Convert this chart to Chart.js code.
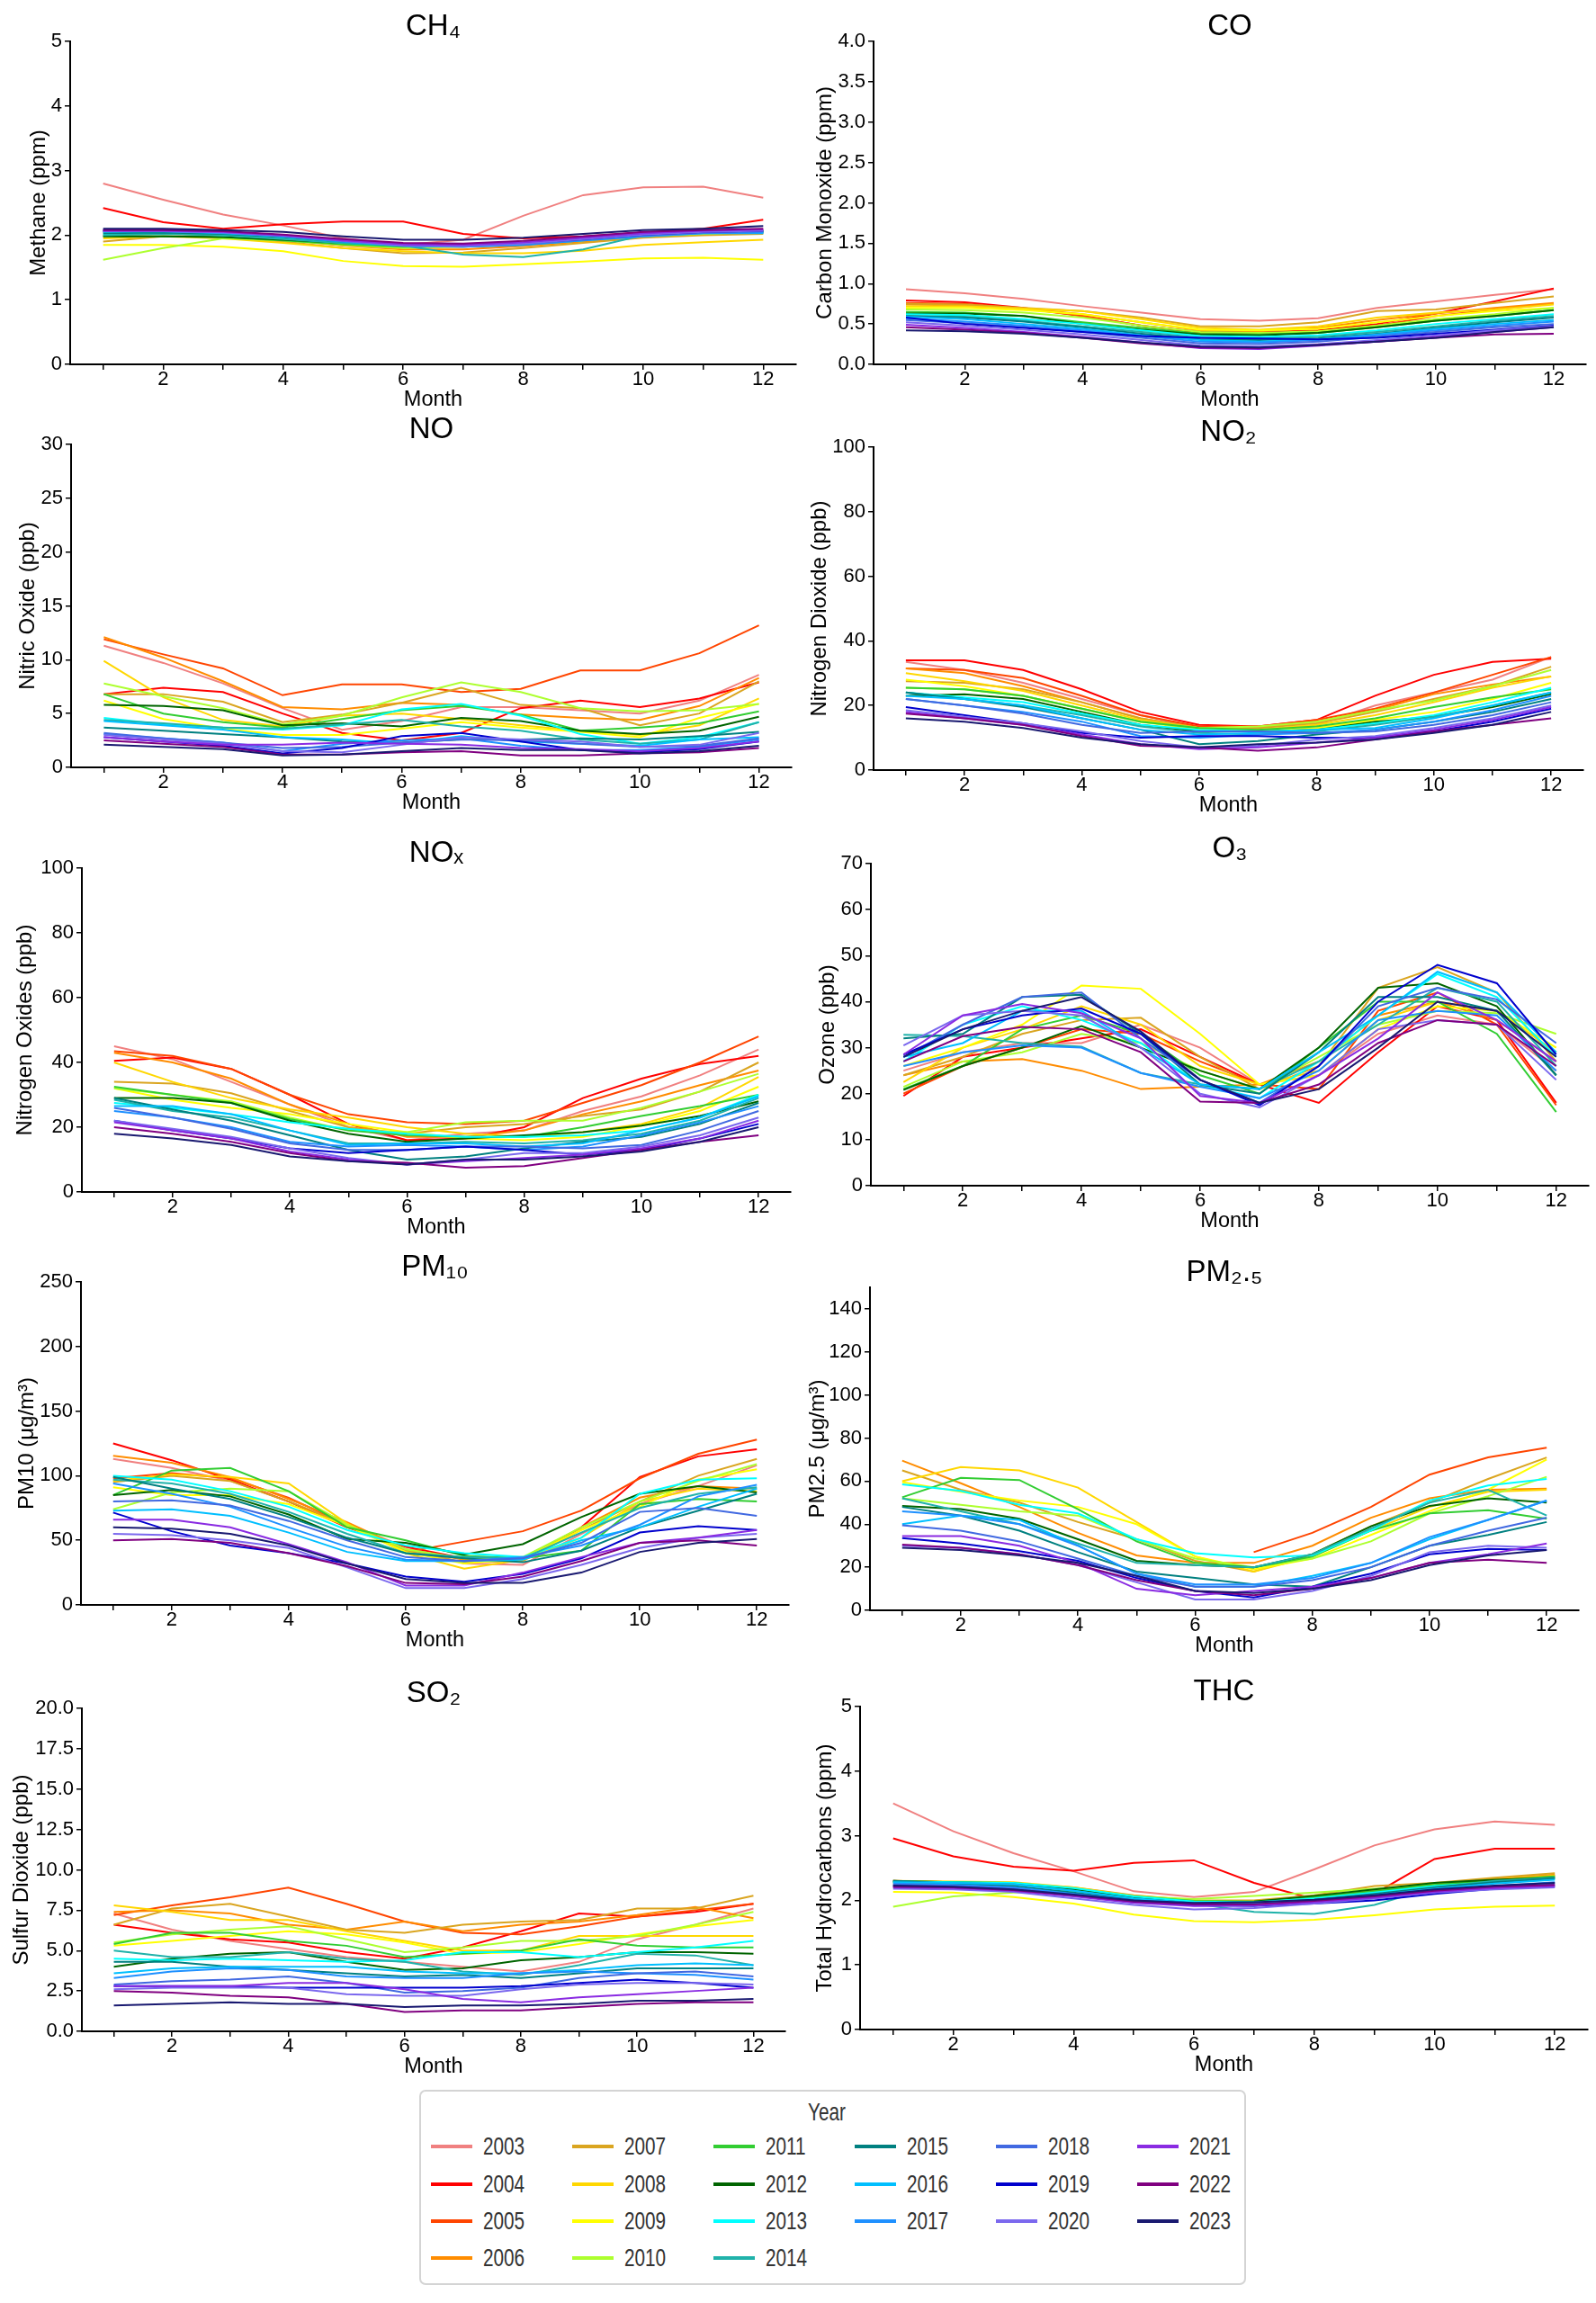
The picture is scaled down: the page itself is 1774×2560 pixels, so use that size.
<!DOCTYPE html>
<html>
<head>
<meta charset="utf-8">
<script src="https://cdn.jsdelivr.net/npm/chart.js@4.4.1/dist/chart.umd.min.js"></script>
<style>
  body { margin: 0; background: #fff; width: 1774px; height: 2560px; position: relative; overflow: hidden;
         font-family: "Liberation Sans", Arial, sans-serif; }
  canvas { position: absolute; }
  #legend { position: absolute; left: 466px; top: 2323px; width: 915px; height: 213px;
            border: 2px solid #d4d4d4; border-radius: 7px; }
  #legend .ttl, #legend .lbl { position: absolute; color: #333; font-size: 28px; line-height: 28px;
            transform-origin: left center; transform: scaleX(0.74); white-space: nowrap; }
  #legend .swatch { position: absolute; width: 46px; height: 4px; }
</style>
</head>
<body>
<div id="legend"></div>
<script>
const months = [1, 2, 3, 4, 5, 6, 7, 8, 9, 10, 11, 12];
const years = [2003, 2004, 2005, 2006, 2007, 2008, 2009, 2010, 2011, 2012, 2013,
               2014, 2015, 2016, 2017, 2018, 2019, 2020, 2021, 2022, 2023];
const yearColors = ['#f08080', '#ff0000', '#ff4500', '#ff8c00', '#daa520', '#ffd700', '#ffff00',
                    '#adff2f', '#32cd32', '#006400', '#00ffff', '#20b2aa', '#008080', '#00bfff',
                    '#1e90ff', '#4169e1', '#0000cd', '#7b68ee', '#8a2be2', '#800080', '#191970'];

// one row per year (2003..2023), one value per month
const ch4 = [
  [2.80,2.55,2.32,2.15,1.95,1.85,1.93,2.30,2.62,2.74,2.75,2.58],
  [2.42,2.20,2.10,2.17,2.21,2.21,2.02,1.95,1.98,2.04,2.10,2.24],
  [2.05,2.05,2.02,1.97,1.88,1.82,1.82,1.86,1.93,2.00,2.05,2.08],
  [2.00,2.02,2.00,1.93,1.84,1.78,1.78,1.83,1.90,1.97,2.02,2.05],
  [1.90,1.98,1.97,1.90,1.80,1.72,1.73,1.80,1.88,1.96,2.00,2.02],
  [1.95,1.98,1.95,1.88,1.80,1.75,1.72,1.72,1.76,1.85,1.89,1.93],
  [1.85,1.85,1.82,1.75,1.60,1.52,1.51,1.55,1.59,1.64,1.65,1.62],
  [1.62,1.80,1.95,1.92,1.85,1.80,1.82,1.86,1.92,1.98,2.02,2.05],
  [1.98,1.98,1.97,1.92,1.86,1.82,1.83,1.87,1.93,2.00,2.04,2.06],
  [1.98,1.98,1.97,1.93,1.88,1.85,1.85,1.88,1.94,2.00,2.04,2.06],
  [2.02,2.03,2.00,1.95,1.88,1.84,1.84,1.87,1.93,2.00,2.04,2.05],
  [2.00,2.02,2.00,1.94,1.88,1.84,1.70,1.66,1.78,2.00,2.04,2.04],
  [2.03,2.04,2.02,1.97,1.90,1.85,1.84,1.87,1.93,2.00,2.04,2.04],
  [2.05,2.06,2.03,1.98,1.90,1.84,1.82,1.85,1.92,1.98,2.03,2.03],
  [2.06,2.06,2.04,1.98,1.90,1.83,1.82,1.85,1.92,1.98,2.03,2.04],
  [2.07,2.07,2.05,1.99,1.91,1.85,1.84,1.87,1.93,2.00,2.04,2.06],
  [2.08,2.08,2.05,2.00,1.92,1.86,1.85,1.88,1.94,2.01,2.05,2.07],
  [2.06,2.06,2.04,1.99,1.91,1.84,1.83,1.87,1.94,2.01,2.05,2.07],
  [2.07,2.07,2.05,2.00,1.92,1.86,1.85,1.89,1.96,2.03,2.07,2.09],
  [2.08,2.08,2.06,2.01,1.94,1.88,1.87,1.91,1.98,2.05,2.08,2.10],
  [2.10,2.10,2.08,2.05,1.98,1.93,1.93,1.96,2.02,2.08,2.10,2.14]
];
const co = [
  [0.93,0.88,0.81,0.72,0.64,0.56,0.54,0.57,0.70,0.78,0.86,0.93],
  [0.79,0.77,0.70,0.60,0.48,0.40,0.40,0.42,0.50,0.63,0.78,0.94],
  [0.76,0.75,0.69,0.60,0.48,0.39,0.38,0.40,0.48,0.60,0.68,0.75],
  [0.74,0.73,0.69,0.62,0.52,0.42,0.41,0.45,0.55,0.63,0.70,0.76],
  [0.75,0.74,0.70,0.66,0.58,0.47,0.47,0.52,0.66,0.68,0.76,0.84],
  [0.72,0.72,0.69,0.66,0.56,0.45,0.43,0.47,0.58,0.64,0.68,0.74],
  [0.70,0.70,0.67,0.62,0.52,0.43,0.42,0.44,0.52,0.60,0.66,0.70],
  [0.68,0.67,0.64,0.58,0.48,0.40,0.39,0.41,0.48,0.56,0.62,0.70],
  [0.65,0.64,0.60,0.52,0.45,0.38,0.37,0.39,0.46,0.54,0.60,0.67],
  [0.63,0.63,0.60,0.50,0.43,0.37,0.36,0.39,0.46,0.54,0.60,0.67],
  [0.62,0.61,0.56,0.50,0.42,0.35,0.34,0.36,0.42,0.50,0.56,0.62],
  [0.60,0.59,0.54,0.47,0.40,0.33,0.32,0.34,0.40,0.47,0.54,0.60],
  [0.60,0.58,0.53,0.46,0.38,0.31,0.30,0.32,0.38,0.45,0.52,0.58],
  [0.59,0.56,0.50,0.44,0.36,0.30,0.28,0.31,0.37,0.44,0.50,0.55],
  [0.57,0.53,0.48,0.42,0.35,0.28,0.27,0.30,0.36,0.42,0.48,0.53],
  [0.55,0.51,0.46,0.40,0.33,0.26,0.25,0.28,0.34,0.40,0.46,0.50],
  [0.58,0.50,0.45,0.40,0.35,0.33,0.32,0.31,0.33,0.38,0.43,0.48],
  [0.52,0.48,0.43,0.37,0.30,0.23,0.22,0.25,0.30,0.36,0.42,0.47],
  [0.49,0.45,0.40,0.34,0.27,0.20,0.19,0.23,0.28,0.34,0.40,0.46],
  [0.46,0.43,0.39,0.33,0.26,0.21,0.20,0.24,0.28,0.33,0.37,0.38],
  [0.42,0.41,0.38,0.33,0.27,0.22,0.21,0.24,0.28,0.33,0.40,0.46]
];
const no = [
  [11.3,9.7,7.8,5.5,3.5,4.3,5.6,5.6,5.3,5.0,6.2,8.6],
  [6.8,7.4,7.0,5.0,3.2,2.5,3.2,5.5,6.2,5.6,6.4,7.9],
  [11.9,10.5,9.2,6.7,7.7,7.7,7.0,7.3,9.0,9.0,10.6,13.2],
  [12.1,10.2,8.0,5.6,5.4,6.0,5.8,4.9,4.6,4.4,5.7,8.3],
  [6.8,6.8,6.1,4.2,4.9,6.0,7.4,5.8,5.5,3.9,5.0,8.0],
  [9.9,6.5,4.4,3.8,4.8,5.0,4.5,3.9,3.4,3.0,3.9,6.4],
  [6.2,4.5,3.6,3.0,3.0,3.6,4.2,3.7,3.3,2.8,4.6,5.9],
  [7.8,6.6,5.5,4.0,4.8,6.5,7.9,7.0,5.5,5.2,5.3,5.9],
  [6.8,5.0,4.2,3.7,4.5,5.3,5.7,4.9,3.4,3.7,4.1,5.2],
  [5.8,5.7,5.3,3.9,4.1,3.8,4.6,4.3,3.4,3.1,3.4,4.7],
  [4.6,4.0,3.7,3.5,3.9,5.4,5.9,4.8,3.1,2.2,2.8,4.2],
  [4.4,4.1,3.7,3.6,4.0,4.4,3.8,3.4,2.6,2.2,2.6,4.2],
  [3.7,3.4,3.1,2.8,2.4,2.3,2.6,2.6,2.7,2.6,2.9,3.3],
  [4.3,3.9,3.5,2.8,2.6,2.2,2.9,2.4,2.2,2.0,2.6,2.8],
  [3.1,2.7,2.3,1.5,2.2,2.5,2.7,2.0,1.6,1.6,1.9,2.6],
  [3.2,2.7,2.3,1.8,1.9,2.3,2.6,2.5,2.2,1.9,2.0,2.7],
  [2.8,2.4,2.0,1.3,1.8,2.9,3.2,2.4,1.6,1.4,1.7,2.4],
  [3.0,2.6,2.2,1.5,1.4,2.1,2.8,2.6,2.4,1.9,2.1,3.2],
  [2.8,2.4,2.1,2.1,2.3,2.2,2.1,1.8,1.7,1.5,1.8,2.4],
  [2.5,2.2,1.9,1.2,1.2,1.4,1.5,1.1,1.1,1.3,1.4,1.8],
  [2.1,1.9,1.7,1.1,1.2,1.5,1.8,1.6,1.6,1.3,1.5,2.0]
];
const no2 = [
  [33.5,31,27,22,17,13,12.5,14,20,24,28,35],
  [34,34,31,25,18,14,13.5,15.5,23,29.5,33.5,34.5],
  [31.5,31,28.5,23,17,13.5,13.5,15.5,19,24,29.5,35],
  [31.5,30,26,21,16,13,13,15,18.5,23.5,26.5,29],
  [27.5,27,25,21,16,13,13,14.5,18,22,26,32],
  [30,27.5,24.5,20,15.5,13,12.5,14,17,21,25.5,29],
  [28,26,23,19,15,12.5,12,13,15.5,18,22,27],
  [25.5,25,23,19,15,13,13.5,15,18.5,21.5,26,31],
  [25.5,25,23,19,15,13,12.5,13.5,16,19.5,22.5,25],
  [23,23.5,22,18,14,12,12,12.5,15,16.5,19.5,23.5],
  [24,22.5,21,17.5,14,12.5,12,12.5,14.5,17,21,25.5],
  [24,22,20,17,13.5,11.5,11,12,14,16.5,20,24],
  [24,22,19.5,16,12.5,8,9,11,12.5,15,18,22],
  [23,22,20,16,12.5,11,11.5,12.5,13,16,20,24],
  [22,20,18,15,10.5,10,11,11.5,12.5,15,18.5,23],
  [22,20,17.5,14,11.5,12,12,11.5,12,14,17,21],
  [19.5,17,14.5,11.5,10,10.5,10.5,10,10,12,15,19],
  [18.5,16.5,14.5,12,9,7,7.5,9.5,10.5,13,16,20],
  [18,16,14,11,8,6.5,7,8.5,10,12.5,15.5,19.5],
  [17.5,16,14,10.5,7.5,7,6,7,9.5,12,14,16],
  [16,15,13,10,8,7,8,8.5,9.5,11.5,14,18]
];
const nox = [
  [45,41,34,27,20,16,18,19,25,29.5,36,44],
  [40.5,41.5,38,30,21,16,16.5,20,29,35,39.5,42],
  [43.5,42,38,30,24,21.5,21,22,27.5,33,40,48],
  [43,40,35,27,21,17,17,19,24,28,33,37.5],
  [34,33.5,30.5,25,20,18,20,21,23.5,25.5,31,40],
  [40,34,29,25.5,23,20,18,17,18.5,21,26,35.5],
  [32,28.5,26,24,21,18.5,16.5,16,17,20.5,25,32.5],
  [32,30,28,23,19,18.5,21.5,22,22,26,31,36.5],
  [32.5,30,27.5,22.5,19,17.5,17,17,20,23.5,26.5,30],
  [29,29,27.5,22,18,15.5,16.5,17.5,18.5,20.5,23.5,28],
  [27.5,26,24,21.5,19.5,18,17,17,17.5,19,23,30],
  [28.5,25,23,19,15,15,15.5,15,16,18,22,29],
  [29,25.5,22,17.5,13,10,11,13.5,15.5,17,21,27.5],
  [26.5,26.5,24,19,14.5,15,15,14,15,19,23,29.5],
  [25,23,20,15.5,14,14.5,14,13,14,17.5,21.5,26.5],
  [26,23,19.5,15,13,13,14,14,13.5,14.5,19,25],
  [22,19,16.5,13.5,12,13,14,13,11.5,13,16.5,21],
  [22,19.5,17,13.5,10.5,8.5,10,12,12,14,17.5,23],
  [21.5,19,16.5,12.5,10,8.5,9.5,10.5,11.5,13.5,16.5,22],
  [20,18,15.5,12,9.5,9,7.5,8,10.5,13,15.5,17.5],
  [18,16.5,14.5,11,9.5,8.5,10,10,11,12.5,15.5,20]
];
const o3 = [
  [25,29,31,31,35,30,22,24,33,37,35,25],
  [19.5,28,30,32,34,28,22,18,29,39,36,18],
  [20,26,30,34,33,27,22,21,38,42,35,17.5],
  [24,27,27.5,25,21,21.5,22,27,37,40,36,27],
  [24,28,33,36,36.5,28,21,26,43,47.5,42,27],
  [22.5,30,34,39,35,26,22,25,36,40,38,29],
  [26,30,35,43.5,42.8,33,22,24,34,39,38,30],
  [21.5,27,29,33,31,25,21,28,35,38,37.5,33],
  [21,26,34,37,33,24,20,30,40,40,33,16],
  [20.8,26,30,34.7,30,25,21,30,43,44,39,24],
  [27,35,39,36,31,22,19,27,37,46,41,28],
  [32.8,32.5,31,30.2,24.5,22,21,27,35,43,40,26],
  [32,33,41,41.5,33,22,20,29,41,41,38,24],
  [28,31,38,38,30,22,21,29,37,46.5,42,29],
  [26,29,30.5,30,24.5,21.5,19,25,36,38,37,25],
  [28,35,41,42,32,23,18,26,39,43,40.5,31],
  [28.5,34,37,38.5,33,23,17.5,26,40,48,44,28.5],
  [30.5,37,38,37,30,20,17,24,34,36,35,23],
  [28.5,37,39.5,37.5,32,19.5,18,24,32,42,36,27],
  [27,32.5,34.5,34,29,18.3,18,22,31,36,35,26],
  [28,34,38,41,33.5,23,18,21,30,40,38,28]
];
const pm10 = [
  [113,106,96,80,62,45,32,31,55,78,92,108],
  [125,112,97,80,60,45,36,35,60,99,115,120.5],
  [98,102,98,83,62,41,49,57,73,98,117,128],
  [115.5,110,99,82,64,43,35,36,60,83,92,90],
  [95,100,96,80,62,42,33,34,58,80,100,113],
  [96,101,99,94,63,40,28,35,52,80,90,88],
  [91,85,85,78,61,41,32,36,58,76,97,105],
  [74,87,90,88,62,43,36,37,60,80,96,109],
  [85,104,106,88,60,50,38,36,42,78,82,80],
  [85,89,84,70,51,48,39,47,68,86,92,87],
  [100,97,88,76,58,46,40,37,52,86,97,98],
  [97,94,86,72,55,40,37,36,56,75,86,91],
  [99,90,82,68,52,40,36,33,42,60,73,86],
  [73,74,69,56,41,34,34,35,50,60,76,90],
  [94,86,76,60,45,35,34,37,46,62,84,93],
  [80,81,77,65,50,37,34,36,48,72,75,69],
  [71.5,57,46,40,32,22,18,24,36,56,61,58],
  [55,54,50,44,29,13,13,20,31,44,52,55],
  [66,66,60,47,33,15,15,25,37,48,52,58],
  [50,51,48,40,30,17,16,22,34,48,50,46],
  [60,59,55,46,32,20,17,17,25,41,48,51]
];
const pm25 = [
  [null,null,null,null,null,null,null,null,null,null,null,null],
  [null,null,null,null,null,null,null,null,null,null,null,null],
  [null,null,null,null,null,null,27,36,48,63,71,75.5],
  [69.5,59,48,36,25.5,22,22,30,43,52,56,56.5],
  [65,56,50,41,33,23,18,26,39,50,61,71],
  [60,66.5,65,57,41,25,18,25,37,48,55,56],
  [59.5,55,51,48,40,25,19,24,35,46,56,70],
  [52,49,46,44,33,24,20,24,32,45,53,62],
  [52.5,61.5,60.5,47,32,22,20,25,37,45,46.5,42.5],
  [48.5,47,42.5,33,23,21,20,26,39,48.5,52,50],
  [58.5,55.5,49,45,33,26.5,24.5,25.5,37,51,58,61],
  [52,46,40,31,22,21,20,26,38,50,56,44],
  [48,44,37,27,18,15,12,11,20,30,35,41],
  [40,44,42,30,17,11,11,16,22,33,42,51],
  [46,44,40,30,17,12,12,15,22,34,42,51],
  [39.5,37,32,24,16,11,11,14,20,30,37,43],
  [33.5,31,27.5,23,15,9,6,11,17,26,28.5,28],
  [30,29,26,21,13,5,5,9,16,27,30,29],
  [34.5,34.5,30,22,10,7,9,11,15,22,26,31],
  [30.5,29,26,21,14,9,7,10,15,22,23.5,22],
  [29,28,25.5,22,16,9,8,10,14,21,25.5,28]
];
const so2 = [
  [7.3,6.3,5.6,5.1,4.6,4.3,4.0,3.7,4.3,5.7,6.6,7.6],
  [6.6,6.1,5.7,5.5,4.9,4.5,5.2,6.2,7.3,7.1,7.4,7.9],
  [7.2,7.8,8.3,8.9,7.9,6.8,6.1,6.0,6.5,7.1,7.5,7.9],
  [7.4,7.5,7.3,6.6,6.3,6.8,6.2,6.6,6.8,7.2,7.7,7.0],
  [6.6,7.6,7.9,7.1,6.3,6.1,6.6,6.8,6.9,7.6,7.6,8.4],
  [7.8,7.4,6.9,6.9,6.2,5.6,5.0,5.0,5.9,5.9,5.9,5.9],
  [5.3,5.6,5.9,6.2,6.0,5.5,4.8,4.9,5.4,6.0,6.5,6.9],
  [5.5,6.0,6.3,6.5,5.7,4.9,5.2,5.6,5.6,5.9,6.6,7.4],
  [5.4,6.1,6.1,5.6,5.3,4.6,4.8,5.0,5.7,5.3,5.2,5.2],
  [4.0,4.5,4.8,4.9,4.3,3.8,3.9,4.4,4.6,4.9,4.9,4.8],
  [4.5,4.4,4.5,4.4,4.3,4.4,4.9,4.9,4.6,4.9,5.2,5.6],
  [5.0,4.6,4.6,4.9,4.5,4.3,3.7,3.5,4.1,4.8,4.7,4.1],
  [4.3,4.3,4.0,3.8,3.6,3.4,3.5,3.3,3.6,3.9,3.9,3.9],
  [3.6,3.9,4.0,4.0,4.0,3.7,3.6,3.6,3.8,4.1,4.2,4.1],
  [3.3,3.7,3.9,3.8,3.4,3.3,3.3,3.6,3.7,3.6,3.5,3.2],
  [2.9,3.1,3.2,3.4,3.0,2.4,2.5,2.7,3.3,3.6,3.7,3.4],
  [2.8,2.8,2.8,2.7,2.7,2.7,2.7,2.8,3.0,3.2,3.0,2.7],
  [2.6,2.7,2.7,2.7,2.3,2.2,2.2,2.6,2.9,3.0,3.0,2.9],
  [2.8,2.8,2.8,3.0,3.0,2.6,2.0,1.8,2.1,2.3,2.5,2.7],
  [2.5,2.4,2.2,2.1,1.7,1.2,1.3,1.3,1.5,1.7,1.8,1.8],
  [1.6,1.7,1.8,1.7,1.7,1.5,1.6,1.6,1.7,1.9,1.9,2.0]
];
const thc = [
  [3.50,3.07,2.73,2.45,2.14,2.05,2.13,2.48,2.85,3.10,3.22,3.17],
  [2.96,2.68,2.52,2.46,2.58,2.62,2.27,2.02,2.10,2.64,2.80,2.80],
  [2.30,2.28,2.25,2.18,2.06,1.98,1.98,2.04,2.14,2.25,2.32,2.38],
  [2.28,2.27,2.25,2.17,2.05,1.98,1.99,2.05,2.16,2.26,2.33,2.40],
  [2.25,2.26,2.26,2.20,2.08,2.00,2.00,2.08,2.22,2.27,2.35,2.42],
  [2.30,2.29,2.28,2.20,2.07,1.99,1.98,2.05,2.15,2.25,2.32,2.38],
  [2.13,2.12,2.05,1.95,1.78,1.68,1.66,1.70,1.77,1.86,1.90,1.92],
  [1.90,2.06,2.12,2.15,2.06,2.02,2.07,2.12,2.18,2.24,2.30,2.36],
  [2.28,2.28,2.27,2.18,2.06,1.99,1.98,2.05,2.14,2.24,2.31,2.37],
  [2.30,2.28,2.26,2.17,2.04,1.97,1.98,2.07,2.17,2.27,2.32,2.35],
  [2.29,2.28,2.27,2.19,2.06,1.98,1.97,2.03,2.12,2.22,2.28,2.33],
  [2.28,2.27,2.25,2.15,2.02,1.95,1.82,1.79,1.93,2.20,2.30,2.35],
  [2.30,2.26,2.22,2.12,2.01,1.95,1.95,2.01,2.10,2.20,2.28,2.34],
  [2.28,2.27,2.25,2.15,2.03,1.96,1.95,2.00,2.08,2.18,2.26,2.32],
  [2.26,2.24,2.20,2.10,2.00,1.93,1.92,1.97,2.05,2.15,2.22,2.28],
  [2.24,2.22,2.18,2.08,1.98,1.92,1.91,1.96,2.03,2.13,2.20,2.25],
  [2.22,2.20,2.16,2.07,1.97,1.93,1.92,1.95,2.00,2.10,2.18,2.22],
  [2.18,2.17,2.13,2.03,1.93,1.86,1.88,1.95,2.03,2.12,2.17,2.20],
  [2.20,2.19,2.15,2.06,1.96,1.91,1.92,1.97,2.04,2.13,2.19,2.22],
  [2.21,2.20,2.16,2.08,1.98,1.94,1.94,1.99,2.06,2.15,2.21,2.24],
  [2.23,2.21,2.17,2.09,2.00,1.96,1.97,2.01,2.08,2.17,2.23,2.27]
];

// y tick labels per panel
const ch4Ticks = ['0', '1', '2', '3', '4', '5'];
const coTicks = ['0.0', '0.5', '1.0', '1.5', '2.0', '2.5', '3.0', '3.5', '4.0'];
const noTicks = ['0', '5', '10', '15', '20', '25', '30'];
const no2Ticks = ['0', '20', '40', '60', '80', '100'];
const noxTicks = ['0', '20', '40', '60', '80', '100'];
const o3Ticks = ['0', '10', '20', '30', '40', '50', '60', '70'];
const pm10Ticks = ['0', '50', '100', '150', '200', '250'];
const pm25Ticks = ['0', '20', '40', '60', '80', '100', '120', '140'];
const so2Ticks = ['0.0', '2.5', '5.0', '7.5', '10.0', '12.5', '15.0', '17.5', '20.0'];
const thcTicks = ['0', '1', '2', '3', '4', '5'];

// plot area in page pixels: [left, right, top, bottom], plus y-title centre x
const panels = [
  { title: 'CH₄', yLabel: 'Methane (ppm)', data: ch4, ticks: ch4Ticks, max: 5, area: [78, 885, 46, 405], yTitleX: 44 },
  { title: 'CO', yLabel: 'Carbon Monoxide (ppm)', data: co, ticks: coTicks, max: 4, area: [971, 1763, 46, 405], yTitleX: 918 },
  { title: 'NO', yLabel: 'Nitric Oxide (ppb)', data: no, ticks: noTicks, max: 30, area: [79, 880, 494, 853], yTitleX: 32 },
  { title: 'NO₂', yLabel: 'Nitrogen Dioxide (ppb)', data: no2, ticks: no2Ticks, max: 100, area: [971, 1760, 497, 856], yTitleX: 912 },
  { title: 'NOₓ', yLabel: 'Nitrogen Oxides (ppb)', data: nox, ticks: noxTicks, max: 100, area: [91, 879, 965, 1325], yTitleX: 29 },
  { title: 'O₃', yLabel: 'Ozone (ppb)', data: o3, ticks: o3Ticks, max: 70, area: [968, 1766, 960, 1318], yTitleX: 921 },
  { title: 'PM₁₀', yLabel: 'PM10 (μg/m³)', data: pm10, ticks: pm10Ticks, max: 250, area: [90, 877, 1425, 1784], yTitleX: 31 },
  { title: 'PM₂.₅', yLabel: 'PM2.5 (μg/m³)', data: pm25, ticks: pm25Ticks, max: 150, area: [967, 1755, 1431, 1790], yTitleX: 910 },
  { title: 'SO₂', yLabel: 'Sulfur Dioxide (ppb)', data: so2, ticks: so2Ticks, max: 20, area: [91, 873, 1899, 2258], yTitleX: 25 },
  { title: 'THC', yLabel: 'Total Hydrocarbons (ppm)', data: thc, ticks: thcTicks, max: 5, area: [956, 1765, 1897, 2256], yTitleX: 918 }
];

const FONT = '"Liberation Sans", Arial, sans-serif';
const TITLE_H = 32, XAXIS_H = 58, PAD_R = 16;

function makePanel(p) {
    const [x0, x1, y0, y1] = p.area;
    const left = p.yTitleX - 15;
    const top = y0 - TITLE_H;
    const canvas = document.createElement('canvas');
    canvas.width = x1 + PAD_R - left;
    canvas.height = y1 + XAXIS_H - top;
    canvas.style.left = left + 'px';
    canvas.style.top = top + 'px';
    document.body.appendChild(canvas);

    const datasets = years.map((yr, i) => ({
        label: String(yr),
        data: months.map((m, j) => ({ x: m, y: p.data[i][j] })),
        borderColor: yearColors[i],
        borderWidth: 2,
        pointRadius: 0,
        tension: 0,
        fill: false,
        order: years.length - i
    }));

    new Chart(canvas, {
        type: 'line',
        data: { datasets },
        options: {
            responsive: false,
            animation: false,
            devicePixelRatio: 1,
            layout: { padding: { top: 0, left: 0, bottom: 0, right: PAD_R } },
            plugins: {
                legend: { display: false },
                tooltip: { enabled: false },
                title: {
                    display: true, text: p.title, color: '#000', fullSize: false,
                    font: { family: FONT, size: 33, weight: 'normal', lineHeight: 0.97 },
                    padding: 0
                }
            },
            scales: {
                x: {
                    type: 'linear', min: 0.45, max: 12.55,
                    afterBuildTicks: axis => { axis.ticks = months.map(m => ({ value: m })); },
                    afterFit: axis => { axis.height = XAXIS_H; },
                    ticks: {
                        autoSkip: false, maxRotation: 0, padding: 0, color: '#000',
                        font: { family: FONT, size: 22, lineHeight: 1 },
                        callback: v => (v % 2 === 0 ? String(v) : '')
                    },
                    grid: { drawOnChartArea: false, drawTicks: true, tickLength: 6, color: '#000', lineWidth: 1.5 },
                    border: { display: true, color: '#000', width: 2 },
                    title: {
                        display: true, text: 'Month', color: '#000',
                        font: { family: FONT, size: 23.5 }, padding: { top: 0, bottom: 4 }
                    }
                },
                y: {
                    type: 'linear', min: 0, max: p.max,
                    afterBuildTicks: axis => { axis.ticks = p.ticks.map(t => ({ value: Number(t) })); },
                    afterFit: axis => { axis.width = x0 - left; },
                    ticks: {
                        padding: 3, color: '#000',
                        font: { family: FONT, size: 22 },
                        callback: (v, i) => p.ticks[i]
                    },
                    grid: { drawOnChartArea: false, drawTicks: true, tickLength: 6, color: '#000', lineWidth: 1.5 },
                    border: { display: true, color: '#000', width: 2 },
                    title: {
                        display: true, text: p.yLabel, color: '#000',
                        font: { family: FONT, size: 24 }, padding: 0
                    }
                }
            }
        }
    });
}

function makeLegend() {
    const box = document.getElementById('legend');
    const ttl = document.createElement('div');
    ttl.className = 'ttl';
    ttl.textContent = 'Year';
    ttl.style.left = '430px';
    ttl.style.top = '9px';
    box.appendChild(ttl);
    const rowY = [61, 103, 144, 185];
    years.forEach((yr, i) => {
        const col = i < 12 ? Math.floor(i / 4) : 3 + Math.floor((i - 12) / 3);
        const row = i < 12 ? i % 4 : (i - 12) % 3;
        const x = 11 + col * 157;
        const sw = document.createElement('div');
        sw.className = 'swatch';
        sw.style.left = x + 'px';
        sw.style.top = (rowY[row] - 2) + 'px';
        sw.style.background = yearColors[i];
        box.appendChild(sw);
        const lbl = document.createElement('div');
        lbl.className = 'lbl';
        lbl.textContent = yr;
        lbl.style.left = (x + 58) + 'px';
        lbl.style.top = (rowY[row] - 14) + 'px';
        box.appendChild(lbl);
    });
}

panels.forEach(makePanel);
makeLegend();
</script>
</body>
</html>
